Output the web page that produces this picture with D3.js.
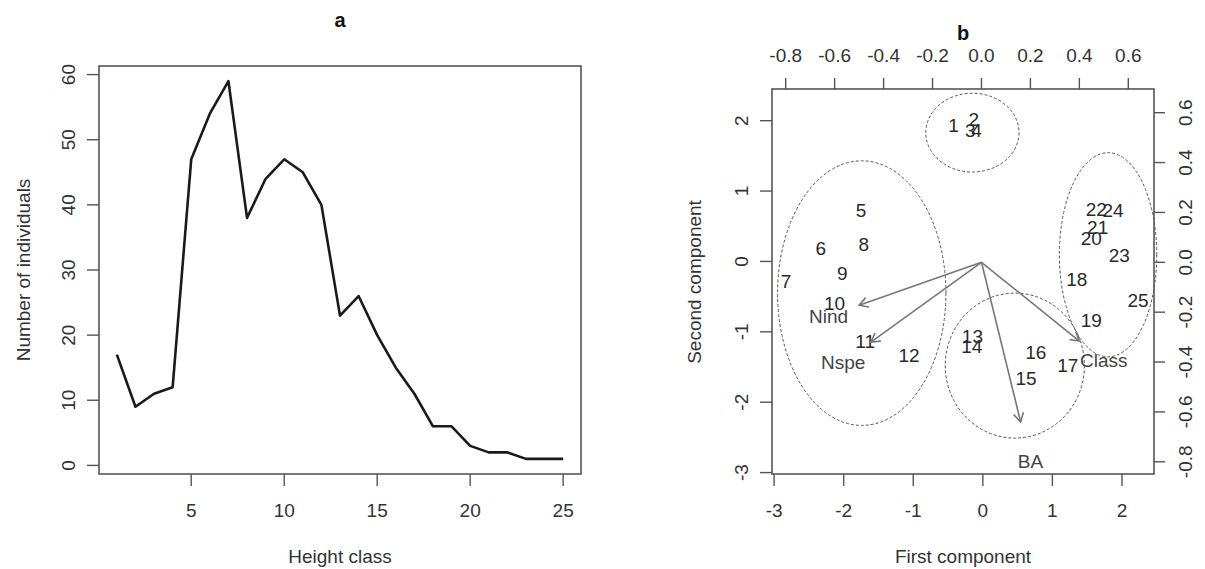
<!DOCTYPE html>
<html>
<head>
<meta charset="utf-8">
<script src="https://cdn.jsdelivr.net/npm/d3@7"></script>
<style>
  body { margin: 0; background: #fff; }
  svg text { font-family: "Liberation Sans", Arial, sans-serif; fill: #333; }
</style>
</head>
<body>
<div id="chart"></div>
<script>
// panel a: number of individuals per height class
const heightClass = [1, 2, 3, 4, 5, 6, 7, 8, 9, 10, 11, 12, 13, 14, 15, 16, 17, 18, 19, 20, 21, 22, 23, 24, 25];
const individuals = [17, 9, 11, 12, 47, 54, 59, 38, 44, 47, 45, 40, 23, 26, 20, 15, 11, 6, 6, 3, 2, 2, 1, 1, 1];
const aTicksX = [5, 10, 15, 20, 25];
const aTicksY = [0, 10, 20, 30, 40, 50, 60];

// panel b: PCA scores (first / second component)
const plotIds = ["1", "2", "3", "4", "5", "6", "7", "8", "9", "10", "11", "12", "13",
  "14", "15", "16", "17", "18", "19", "20", "21", "22", "23", "24", "25"];
const pc1 = [-0.42, -0.13, -0.18, -0.09, -1.75, -2.33, -2.83, -1.71, -2.02, -2.13, -1.69, -1.06, -0.15,
  -0.16, 0.62, 0.76, 1.22, 1.35, 1.56, 1.56, 1.65, 1.63, 1.96, 1.87, 2.23];
const pc2 = [1.93, 2.02, 1.86, 1.86, 0.72, 0.19, -0.28, 0.24, -0.165, -0.59, -1.14, -1.33, -1.07,
  -1.21, -1.66, -1.29, -1.47, -0.26, -0.83, 0.33, 0.48, 0.74, 0.08, 0.72, -0.55];

// variable loadings
const varNames = ["Nind", "Nspe", "BA", "Class"];
const load1 = [-0.625, -0.565, 0.2, 0.5];
const load2 = [-0.215, -0.40, -0.80, -0.395];

// group ellipses (centre and radii, in score units)
const ellCx = [-0.15, -1.74, 1.80, 0.46];
const ellCy = [1.83, -0.45, 0.095, -1.48];
const ellRx = [0.67, 1.21, 0.70, 1.0];
const ellRy = [0.56, 1.88, 1.45, 1.03];

const bTicks = [-3, -2, -1, 0, 1, 2];
const loadTicks = [-0.8, -0.6, -0.4, -0.2, 0.0, 0.2, 0.4, 0.6];

const W = 1205, H = 569;
const fs = 19;
const axisCol = "#555";

const svg = d3.select("#chart").append("svg")
  .attr("width", W).attr("height", H);

/* ------------------------------ PANEL A ------------------------------ */
const xa = d3.scaleLinear().domain([0.04, 25.96]).range([99, 581]);
const ya = d3.scaleLinear().domain([-1.32, 61.32]).range([474, 66]);

const ga = svg.append("g");

ga.append("path")
  .datum(heightClass.map((d, i) => [d, individuals[i]]))
  .attr("fill", "none")
  .attr("stroke", "#1a1a1a")
  .attr("stroke-width", 2.6)
  .attr("stroke-linejoin", "round")
  .attr("d", d3.line().x(d => xa(d[0])).y(d => ya(d[1])));

ga.append("rect")
  .attr("x", xa.range()[0]).attr("y", ya.range()[1])
  .attr("width", xa.range()[1] - xa.range()[0])
  .attr("height", ya.range()[0] - ya.range()[1])
  .attr("fill", "none").attr("stroke", axisCol).attr("stroke-width", 1.6);

// bottom axis
ga.selectAll(".xt").data(aTicksX).enter().append("line")
  .attr("x1", d => xa(d)).attr("x2", d => xa(d))
  .attr("y1", 474).attr("y2", 486)
  .attr("stroke", axisCol).attr("stroke-width", 1.4);
ga.selectAll(".xl").data(aTicksX).enter().append("text")
  .attr("x", d => xa(d)).attr("y", 517)
  .attr("text-anchor", "middle").attr("font-size", fs)
  .text(d => d);

// left axis
ga.selectAll(".yt").data(aTicksY).enter().append("line")
  .attr("x1", 87).attr("x2", 99)
  .attr("y1", d => ya(d)).attr("y2", d => ya(d))
  .attr("stroke", axisCol).attr("stroke-width", 1.4);
ga.selectAll(".yl").data(aTicksY).enter().append("text")
  .attr("transform", d => `translate(68,${ya(d)}) rotate(-90)`)
  .attr("dy", "0.35em")
  .attr("text-anchor", "middle").attr("font-size", fs)
  .text(d => d);

ga.append("text")
  .attr("x", 340).attr("y", 27)
  .attr("text-anchor", "middle").attr("font-size", 20).attr("font-weight", "bold")
  .style("fill", "#111")
  .text("a");
ga.append("text")
  .attr("x", 340).attr("y", 563)
  .attr("text-anchor", "middle").attr("font-size", fs)
  .text("Height class");
ga.append("text")
  .attr("transform", "translate(23,270) rotate(-90)")
  .attr("dy", "0.35em")
  .attr("text-anchor", "middle").attr("font-size", fs)
  .text("Number of individuals");

/* ------------------------------ PANEL B ------------------------------ */
const xb = d3.scaleLinear().domain([-3.03, 2.46]).range([772, 1154]);
const yb = d3.scaleLinear().domain([-3.02, 2.45]).range([474, 89]);
// secondary scales for the loadings
const xl = d3.scaleLinear().domain([-0.856, 0.705]).range([772, 1154]);
const yl = d3.scaleLinear().domain([-0.849, 0.695]).range([474, 89]);

const gb = svg.append("g");
const fmt1 = d => d.toFixed(1);

// ellipses
gb.selectAll(".ell").data(ellCx).enter().append("ellipse")
  .attr("cx", (d, i) => xb(d))
  .attr("cy", (d, i) => yb(ellCy[i]))
  .attr("rx", (d, i) => xb(ellRx[i]) - xb(0))
  .attr("ry", (d, i) => yb(0) - yb(ellRy[i]))
  .attr("fill", "none")
  .attr("stroke", "#555")
  .attr("stroke-width", 1)
  .attr("stroke-dasharray", "3,2");

// scores as text labels
gb.selectAll(".pt").data(plotIds).enter().append("text")
  .attr("x", (d, i) => xb(pc1[i]))
  .attr("y", (d, i) => yb(pc2[i]))
  .attr("dy", "0.35em")
  .attr("text-anchor", "middle").attr("font-size", fs)
  .style("fill", "#2a2a2a")
  .text(d => d);

// arrows at 0.8 of the loading
const arrowCol = "#777";
const headLen = 10;
varNames.forEach((name, i) => {
  const x0 = xl(0), y0 = yl(0);
  const x1 = xl(load1[i] * 0.8), y1 = yl(load2[i] * 0.8);
  gb.append("line")
    .attr("x1", x0).attr("y1", y0).attr("x2", x1).attr("y2", y1)
    .attr("stroke", arrowCol).attr("stroke-width", 1.6);
  const ang = Math.atan2(y1 - y0, x1 - x0);
  const a1 = ang + Math.PI - Math.PI / 6, a2 = ang + Math.PI + Math.PI / 6;
  gb.append("path")
    .attr("d", `M${x1 + headLen * Math.cos(a1)},${y1 + headLen * Math.sin(a1)}L${x1},${y1}L${x1 + headLen * Math.cos(a2)},${y1 + headLen * Math.sin(a2)}`)
    .attr("fill", "none").attr("stroke", arrowCol).attr("stroke-width", 1.6);
  gb.append("text")
    .attr("x", xl(load1[i])).attr("y", yl(load2[i]))
    .attr("dy", "0.35em")
    .attr("text-anchor", "middle").attr("font-size", fs)
    .style("fill", "#444")
    .text(name);
});

gb.append("rect")
  .attr("x", 772).attr("y", 89)
  .attr("width", 1154 - 772).attr("height", 474 - 89)
  .attr("fill", "none").attr("stroke", axisCol).attr("stroke-width", 1.6);

// bottom axis
gb.selectAll(".bxt").data(bTicks).enter().append("line")
  .attr("x1", d => xb(d)).attr("x2", d => xb(d))
  .attr("y1", 474).attr("y2", 486)
  .attr("stroke", axisCol).attr("stroke-width", 1.4);
gb.selectAll(".bxl").data(bTicks).enter().append("text")
  .attr("x", d => xb(d)).attr("y", 517)
  .attr("text-anchor", "middle").attr("font-size", fs)
  .text(d => d);

// left axis
gb.selectAll(".byt").data(bTicks).enter().append("line")
  .attr("x1", 760).attr("x2", 772)
  .attr("y1", d => yb(d)).attr("y2", d => yb(d))
  .attr("stroke", axisCol).attr("stroke-width", 1.4);
gb.selectAll(".byl").data(bTicks).enter().append("text")
  .attr("transform", d => `translate(741,${yb(d)}) rotate(-90)`)
  .attr("dy", "0.35em")
  .attr("text-anchor", "middle").attr("font-size", fs)
  .text(d => d);

// top axis (loadings)
gb.selectAll(".txt").data(loadTicks).enter().append("line")
  .attr("x1", d => xl(d)).attr("x2", d => xl(d))
  .attr("y1", 78).attr("y2", 89)
  .attr("stroke", axisCol).attr("stroke-width", 1.4);
gb.selectAll(".txl").data(loadTicks).enter().append("text")
  .attr("x", d => xl(d)).attr("y", 62)
  .attr("text-anchor", "middle").attr("font-size", fs)
  .text(fmt1);

// right axis (loadings)
gb.selectAll(".ryt").data(loadTicks).enter().append("line")
  .attr("x1", 1154).attr("x2", 1165)
  .attr("y1", d => yl(d)).attr("y2", d => yl(d))
  .attr("stroke", axisCol).attr("stroke-width", 1.4);
gb.selectAll(".ryl").data(loadTicks).enter().append("text")
  .attr("transform", d => `translate(1185,${yl(d)}) rotate(-90)`)
  .attr("dy", "0.35em")
  .attr("text-anchor", "middle").attr("font-size", fs)
  .text(fmt1);

gb.append("text")
  .attr("x", 963).attr("y", 40)
  .attr("text-anchor", "middle").attr("font-size", 20).attr("font-weight", "bold")
  .style("fill", "#111")
  .text("b");
gb.append("text")
  .attr("x", 963).attr("y", 563)
  .attr("text-anchor", "middle").attr("font-size", fs)
  .text("First component");
gb.append("text")
  .attr("transform", "translate(694,282) rotate(-90)")
  .attr("dy", "0.35em")
  .attr("text-anchor", "middle").attr("font-size", fs)
  .text("Second component");
</script>
</body>
</html>
